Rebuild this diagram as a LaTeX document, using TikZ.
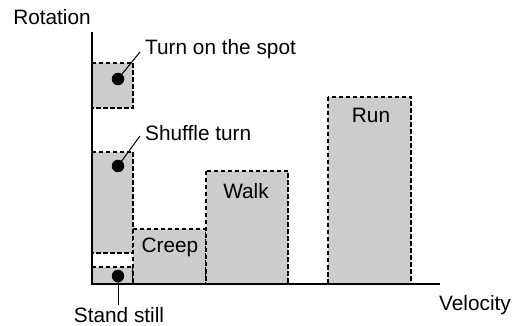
\documentclass[tikz,border=0pt]{standalone}
\usepackage{fontspec}
\setmainfont{Liberation Sans}
\usepackage{tikz}

\begin{document}
\begin{tikzpicture}[x=1pt,y=-1pt,
  region/.style={fill=black!20,draw=black,line width=1.7pt,dash pattern=on 4.5pt off 2.5pt},
  axis/.style={line width=2pt},
  dot/.style={circle,fill=black,inner sep=0pt,minimum size=12.5pt},
  leader/.style={line width=1pt},
  lbl/.style={inner sep=0pt,font=\fontsize{20.8}{24}\selectfont}]
\useasboundingbox (0,0) rectangle (512,326);
\draw[region] (92,63) rectangle (133,108);
\draw[region] (92,152) rectangle (133,253);
\draw[region] (92,267) rectangle (133,284);
\draw[region] (133,229) rectangle (206,284);
\draw[region] (206,171) rectangle (288,284);
\draw[region] (328,97) rectangle (411,284);
\coordinate (ytop) at (92,32);\coordinate (xend) at (440,284);
\draw[axis] (ytop) |- (xend);
\node[lbl,anchor=base] (rot) at (52,25) {Rotation};
\node[lbl,anchor=base] (vel) at (475,310) {Velocity};
\node[lbl,anchor=base] (creep) at (170,253) {Creep};
\node[lbl,anchor=base] (walk) at (246,199) {Walk};
\node[lbl,anchor=base] (run) at (371,123) {Run};
\node[dot] (turndot) at (118,79) {};\node[dot] (shufdot) at (118,166) {};
\node[dot] (standdot) at (118,276) {};
\coordinate (turnend) at (140,52);\coordinate (shufend) at (140,136);
\coordinate (standend) at (118,305);
\node[lbl,anchor=base west] (turn) at (145,55) {Turn on the spot};
\node[lbl,anchor=base west] (shuf) at (145,141) {Shuffle turn};
\node[lbl,anchor=base] (stand) at (119,322) {Stand still};
\draw[leader] (turndot.center)--(turnend);
\draw[leader] (shufdot.center)--(shufend);
\draw[leader] (standdot.center)--(standend);
\end{tikzpicture}
\end{document}
